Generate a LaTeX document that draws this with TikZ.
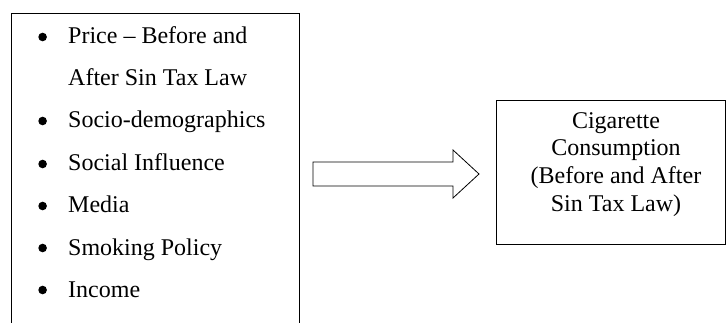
\documentclass[tikz,border=0pt]{standalone}
\usepackage{fontspec}
\setmainfont{Liberation Serif}
\usetikzlibrary{calc}
\begin{document}
\begin{tikzpicture}[x=1pt,y=-1pt,
  txt/.style={inner sep=0pt,anchor=base west,font=\fontsize{24}{28}\selectfont},
  bul/.style={circle,fill=black,inner sep=0pt,minimum size=8.6pt},
  ctxt/.style={inner sep=0pt,anchor=base,font=\fontsize{24}{28}\selectfont},
  boxline/.style={draw=black,line width=1pt}]
\useasboundingbox (0,0) rectangle (728,323);
\clip (0,0) rectangle (728,323);
% left box (open at the bottom of the picture)
\node[boxline,minimum width=288pt,minimum height=340pt,anchor=north west,inner sep=0pt] (inbox) at (11,13) {};
\node[bul] (b1) at (42.6,37) {};
\node[txt] (l1) at (68,44) {Price – Before and};
\node[txt] (l2) at (68,86) {After Sin Tax Law};
\node[bul] (b2) at (42.6,121) {};
\node[txt] (l3) at (68,128) {Socio-demographics};
\node[bul] (b3) at (42.6,164) {};
\node[txt] (l4) at (68,171) {Social Influence};
\node[bul] (b4) at (42.6,206) {};
\node[txt] (l5) at (68,213) {Media};
\node[bul] (b5) at (42.6,248) {};
\node[txt] (l6) at (68,255) {Smoking Policy};
\node[bul] (b6) at (42.6,290) {};
\node[txt] (l7) at (68,297) {Income};
% right box
\node[boxline,minimum width=229pt,minimum height=144pt,anchor=north west,inner sep=0pt] (outbox) at (496,100) {};
\node[ctxt] (c1) at (616,128.3) {Cigarette};
\node[ctxt] (c2) at (616,156) {Consumption};
\node[ctxt] (c3) at (616,183.6) {(Before and After};
\node[ctxt] (c4) at (616,211.3) {Sin Tax Law)};
% block arrow
\coordinate (as) at (313,174);
\coordinate (at) at (479,174);
\draw[line width=0.8pt,line join=miter] ($(as)+(0,-12)$) -- (453,162) -- (453,150) -- (at) -- (453,198) -- (453,186) -- ($(as)+(0,12)$) -- cycle;
\end{tikzpicture}
\end{document}
